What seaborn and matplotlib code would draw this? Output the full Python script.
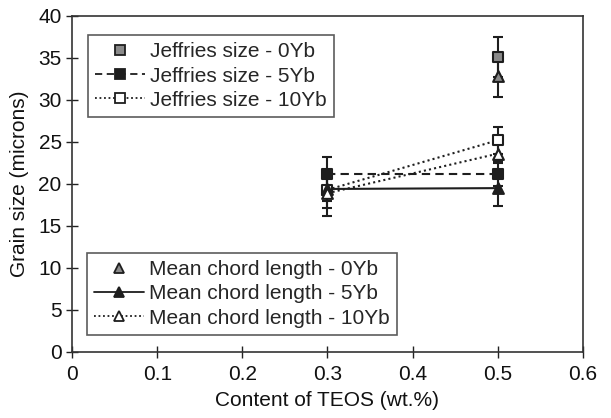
import matplotlib
matplotlib.use("Agg")
import matplotlib.pyplot as plt
from matplotlib.lines import Line2D
import seaborn as sns
import pandas as pd

sns.set_theme(style="white")
plt.rcParams['font.family'] = ['Liberation Sans', 'DejaVu Sans']

x_0yb = [0.5]
x_two = [0.3, 0.5]

jeff_0yb = [35.1]
jeff_0yb_err = [2.4]
jeff_5yb = [21.2, 21.2]
jeff_5yb_err = [2.0, 1.5]
jeff_10yb = [19.3, 25.2]
jeff_10yb_err = [2.2, 1.6]

chord_0yb = [32.8]
chord_0yb_err = [2.4]
chord_5yb = [19.4, 19.5]
chord_5yb_err = [1.4, 2.1]
chord_10yb = [18.9, 23.6]
chord_10yb_err = [2.7, 1.1]

labels_jeff = ["Jeffries size - 0Yb", "Jeffries size - 5Yb", "Jeffries size - 10Yb"]
labels_chord = ["Mean chord length - 0Yb", "Mean chord length - 5Yb", "Mean chord length - 10Yb"]

dark = "#1e1e1e"
gray = "#8a8a8a"
FS = 15

fig = plt.figure(figsize=(6.11, 4.18), dpi=100)
ax = fig.add_axes([0.118, 0.158, 0.836, 0.804])

series = [
    (x_0yb, jeff_0yb, jeff_0yb_err, "s", gray, "none"),
    (x_two, jeff_5yb, jeff_5yb_err, "s", dark, (0, (4, 2.5))),
    (x_two, jeff_10yb, jeff_10yb_err, "s", "white", (0, (1, 1.5))),
    (x_0yb, chord_0yb, chord_0yb_err, "^", gray, "none"),
    (x_two, chord_5yb, chord_5yb_err, "^", dark, "-"),
    (x_two, chord_10yb, chord_10yb_err, "^", "white", (0, (1, 1.5))),
]

for xs, ys, es, mk, fc, ls in series:
    ax.errorbar(xs, ys, yerr=es, fmt="none", ecolor=dark, elinewidth=1.5,
                capsize=3.5, capthick=1.5, zorder=2)
    df = pd.DataFrame({"x": xs, "y": ys})
    if ls != "none":
        sns.lineplot(data=df, x="x", y="y", ax=ax, color=dark, linewidth=1.5,
                     linestyle=ls, zorder=3)
    sns.scatterplot(data=df, x="x", y="y", ax=ax, marker=mk, s=60,
                    color=fc, edgecolor=dark, linewidth=1.5, zorder=4)

ax.set_xlim(0, 0.6)
ax.set_ylim(0, 40)
ax.set_xticks([0, 0.1, 0.2, 0.3, 0.4, 0.5, 0.6])
ax.set_xticklabels(["0", "0.1", "0.2", "0.3", "0.4", "0.5", "0.6"])
ax.set_yticks(range(0, 41, 5))
ax.tick_params(direction="inout", length=9, width=1, colors="#222222",
               labelsize=FS, labelcolor="#111111", bottom=True, left=True, pad=3)
ax.tick_params(axis="x", pad=5)
for sp in ax.spines.values():
    sp.set_color("#333333")
    sp.set_linewidth(1.2)
ax.set_xlabel("Content of TEOS (wt.%)", fontsize=FS, color="#111111", labelpad=5)
ax.set_ylabel("Grain size (microns)", fontsize=FS, color="#111111", labelpad=7)


def handle(mk, fc, ls):
    return Line2D([], [], color=dark, linestyle=ls if ls != "none" else "none",
                  linewidth=1.3, marker=mk, markersize=7, markerfacecolor=fc,
                  markeredgecolor=dark, markeredgewidth=1.3)


h1 = [handle(s[3], s[4], s[5]) for s in series[:3]]
h2 = [handle(s[3], s[4], s[5]) for s in series[3:]]

common = dict(fontsize=FS, frameon=True, fancybox=False, edgecolor="#333333",
              handlelength=2.4, handletextpad=0.25, labelspacing=0.25,
              borderpad=0.35, borderaxespad=0)
leg1 = ax.legend(h1, labels_jeff, loc="upper left", bbox_to_anchor=(0.031, 0.943), **common)
leg1.get_frame().set_linewidth(1.2)
ax.add_artist(leg1)
leg2 = ax.legend(h2, labels_chord, loc="lower left", bbox_to_anchor=(0.029, 0.051), **common)
leg2.get_frame().set_linewidth(1.2)

fig.savefig("out.png", dpi=100)
